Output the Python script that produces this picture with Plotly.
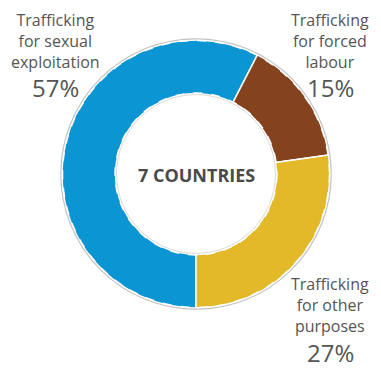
import plotly.graph_objects as go

labels = ["Trafficking for sexual exploitation", "Trafficking for forced labour", "Trafficking for other purposes"]
values = [57, 15, 27]
colors = ["#0B95D3", "#85421F", "#E3B92A"]
label_lines = [["Trafficking", "for sexual", "exploitation"],
               ["Trafficking", "for forced", "labour"],
               ["Trafficking", "for other", "purposes"]]
center_text = "7 COUNTRIES"

W, H = 381, 369
cx, cy, R = 196, 174, 134
hole = 0.6

dx0, dx1 = (cx - R) / W, (cx + R) / W
dy0, dy1 = (H - cy - R) / H, (H - cy + R) / H

fig = go.Figure()
fig.add_trace(go.Pie(
    labels=labels, values=values, hole=hole, sort=False, direction="clockwise",
    rotation=180, textinfo="none", hoverinfo="label+percent",
    marker=dict(colors=colors, line=dict(color="white", width=1.5)),
    domain=dict(x=[dx0, dx1], y=[dy0, dy1]), showlegend=False,
))

def circ(r, color, width, dash):
    return dict(type="circle", xref="paper", yref="paper",
                x0=(cx - r) / W, x1=(cx + r) / W,
                y0=(H - cy - r) / H, y1=(H - cy + r) / H,
                line=dict(color=color, width=width, dash=dash), layer="above")

shapes = [
    circ(R + 1.2, "rgba(120,120,120,0.45)", 1.2, "solid"),
    circ(R - 0.5, "white", 1.6, "dash"),
    circ(R * hole + 0.5, "white", 1.6, "dash"),
    circ(R * hole - 1.0, "rgba(150,150,150,0.35)", 1, "solid"),
]

txt_color = "#555555"
font = "Open Sans"
LF, PF = 16, 24
# (x centre, label block centre y, percent centre y), pixels from the top-left
pos = [(55, 41, 88), (330, 41, 88), (330, 305, 352)]
annotations = []
for lines, v, (x, yl, yp) in zip(label_lines, values, pos):
    annotations.append(dict(x=x / W, y=1 - yl / H, xref="paper", yref="paper",
                            text="<br>".join(lines), showarrow=False, align="center",
                            xanchor="center", yanchor="middle", borderpad=0,
                            font=dict(family=font, size=LF, color=txt_color)))
    annotations.append(dict(x=x / W, y=1 - yp / H, xref="paper", yref="paper",
                            text=f"{v}%", showarrow=False,
                            xanchor="center", yanchor="middle", borderpad=0,
                            font=dict(family=font, size=PF, color=txt_color)))
annotations.append(dict(x=cx / W, y=1 - (cy + 1) / H, xref="paper", yref="paper",
                        text=f"<b>{center_text}</b>", showarrow=False,
                        xanchor="center", yanchor="middle",
                        font=dict(family=font, size=18, color="#4a4a4a")))

fig.update_layout(width=W, height=H, margin=dict(l=0, r=0, t=0, b=0),
                  paper_bgcolor="white", plot_bgcolor="white",
                  shapes=shapes, annotations=annotations)
fig.write_html("out.html", config={"displayModeBar": False},
               post_script="document.body.style.margin='0';document.body.style.overflow='hidden';")
